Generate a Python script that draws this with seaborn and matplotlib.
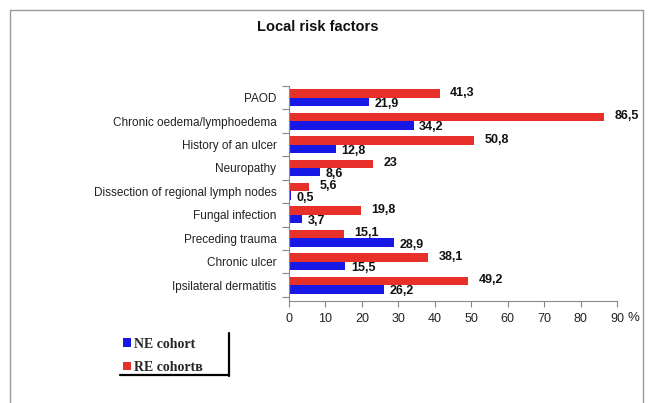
import numpy as np
import pandas as pd
import matplotlib
matplotlib.use("Agg")
import matplotlib.pyplot as plt
from matplotlib.patches import Patch
from matplotlib.lines import Line2D
import seaborn as sns

# DATA
factors = ["PAOD", "Chronic oedema/lymphoedema", "History of an ulcer", "Neuropathy",
           "Dissection of regional lymph nodes", "Fungal infection", "Preceding trauma",
           "Chronic ulcer", "Ipsilateral dermatitis"]
ne_values = [21.9, 34.2, 12.8, 8.6, 0.5, 3.7, 28.9, 15.5, 26.2]
re_values = [41.3, 86.5, 50.8, 23, 5.6, 19.8, 15.1, 38.1, 49.2]
ne_labels = ["21,9", "34,2", "12,8", "8,6", "0,5", "3,7", "28,9", "15,5", "26,2"]
re_labels = ["41,3", "86,5", "50,8", "23", "5,6", "19,8", "15,1", "38,1", "49,2"]
series_names = ["NE cohort", "RE cohortв"]
x_ticks = [0, 10, 20, 30, 40, 50, 60, 70, 80, 90]

RED = "#E8302A"
BLUE = "#1818E6"

df = pd.DataFrame({
    "factor": factors * 2,
    "value": re_values + ne_values,
    "cohort": [series_names[1]] * len(factors) + [series_names[0]] * len(factors),
})

sns.set_style("white")
plt.rcParams['font.family'] = ['Liberation Sans', 'DejaVu Sans']

W, H = 653, 403
fig = plt.figure(figsize=(W / 100, H / 100), dpi=100)
ax = fig.add_axes([289 / W, 1 - 301 / H, (617 - 289) / W, (301 - 86) / H])

sns.barplot(data=df, y="factor", x="value", hue="cohort",
            hue_order=[series_names[1], series_names[0]],
            palette=[RED, BLUE], order=factors, orient="h",
            width=0.72, saturation=1, legend=False, ax=ax, linewidth=0)

ax.set_xlim(0, 90)
ax.set_ylim(8.68, -0.47)
ax.set_xticks(x_ticks)
ax.set_xticklabels([str(t) for t in x_ticks], fontsize=9, color="#222222")
ax.set_xlabel("")
ax.set_ylabel("")
ax.tick_params(axis="x", length=4, width=0.8, color="#888888", pad=5, direction="out", bottom=True)
ax.tick_params(axis="y", length=0, pad=9, labelsize=8.5, labelcolor="#222222")
ax.set_yticks(np.arange(-0.5, len(factors), 1), minor=True)
ax.tick_params(axis="y", which="minor", length=5, width=0.8, color="#888888", left=True)
for s in ["top", "right"]:
    ax.spines[s].set_visible(False)
for s in ["left", "bottom"]:
    ax.spines[s].set_color("#888888")
    ax.spines[s].set_linewidth(0.8)

fig.text(627 / W, 1 - 318 / H, "%", fontsize=9.5, color="#222222", ha="left", va="center")

# value labels
red_bars, blue_bars = ax.containers[0], ax.containers[1]
for bar, lab in zip(red_bars, re_labels):
    yc = bar.get_y() + bar.get_height() / 2
    ax.annotate(lab, (bar.get_width(), yc), xytext=(7.5, 0.5), textcoords="offset points",
                ha="left", va="center", fontsize=9, fontweight="bold", color="#111111")
for bar, lab in zip(blue_bars, ne_labels):
    yc = bar.get_y() + bar.get_height() / 2
    ax.annotate(lab, (bar.get_width(), yc), xytext=(4, -1.5), textcoords="offset points",
                ha="left", va="center", fontsize=9, fontweight="bold", color="#111111")

fig.text(318 / W, 1 - 27 / H, "Local risk factors", ha="center", va="center",
         fontsize=10.5, fontweight="bold", color="#111111")

# legend
handles = [Patch(facecolor=BLUE, edgecolor="none"), Patch(facecolor=RED, edgecolor="none")]
leg = fig.legend(handles, series_names, loc="upper left",
                 bbox_to_anchor=(110 / W, 1 - 325 / H), frameon=False,
                 handlelength=0.6, handleheight=0.6, handletextpad=0.2,
                 labelspacing=0.75, prop={"family": "Liberation Serif", "weight": "bold", "size": 10})

fig.add_artist(Line2D([229 / W, 229 / W], [1 - 333 / H, 1 - 376 / H], color="black", lw=1.6))
fig.add_artist(Line2D([120 / W, 229 / W], [1 - 375 / H, 1 - 375 / H], color="black", lw=1.6))

# outer frame
frame_c = "#9a9a9a"
fig.add_artist(Line2D([10 / W, 10 / W], [0, 1 - 10 / H], color=frame_c, lw=1))
fig.add_artist(Line2D([643 / W, 643 / W], [0, 1 - 10 / H], color=frame_c, lw=1))
fig.add_artist(Line2D([10 / W, 643 / W], [1 - 10 / H, 1 - 10 / H], color=frame_c, lw=1))

fig.savefig("out.png", dpi=100)
